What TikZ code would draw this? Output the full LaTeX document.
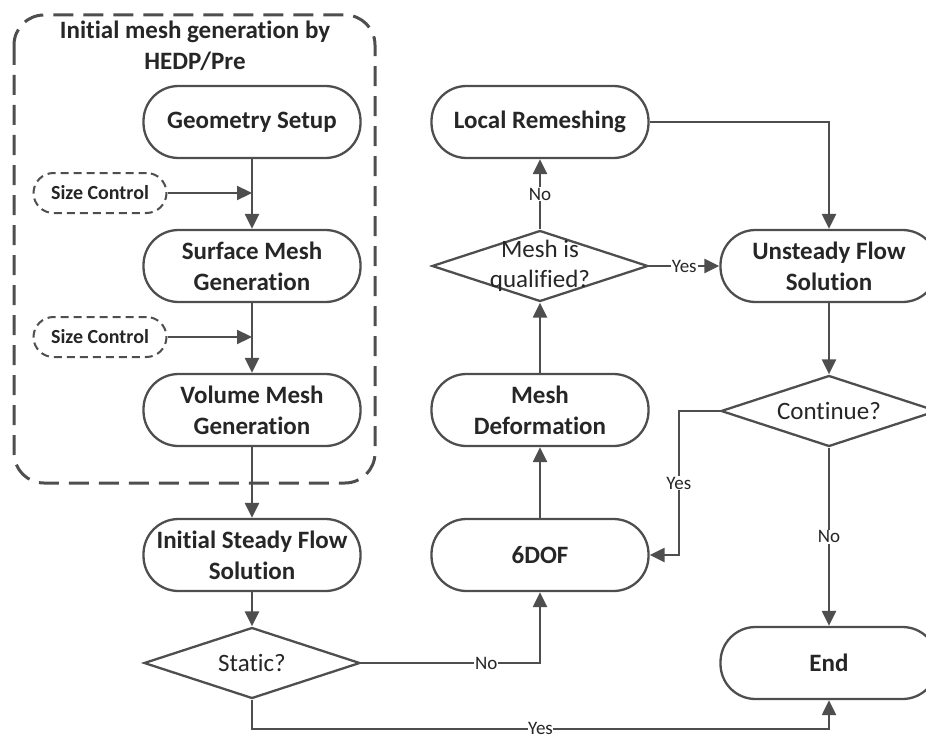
\documentclass[tikz,border=0pt]{standalone}
\usepackage{fontspec}
\setmainfont{Carlito}[Ligatures=NoCommon]
\usetikzlibrary{arrows.meta,shapes.geometric}
\definecolor{linegray}{RGB}{78,78,78}
\definecolor{textgray}{RGB}{38,38,38}

\begin{document}
\begin{tikzpicture}[x=1pt, y=-1pt,
    process/.style={draw=linegray, line width=2.3pt, rounded corners=35pt, minimum width=217pt, minimum height=72pt, inner sep=2pt, align=center, text=textgray, font=\bfseries\fontsize{25}{31}\selectfont},
    sizebox/.style={draw=linegray, line width=2pt, dash pattern=on 8pt off 5pt, rounded corners=20pt, minimum width=133pt, minimum height=40pt, inner sep=0pt, text=textgray, font=\bfseries\fontsize{20}{24}\selectfont},
    decision/.style={diamond, draw=linegray, line width=2.3pt, minimum width=216pt, minimum height=71pt, inner sep=0pt},
    dtext/.style={text=textgray, align=center, font=\fontsize{25}{30}\selectfont},
    flow/.style={draw=linegray, line width=2.3pt, -{Triangle[length=15pt, width=14pt]}},
    tag/.style={fill=white, inner sep=1pt, text=textgray, font=\fontsize{19}{21}\selectfont}
]

        \useasboundingbox (0,0) rectangle (926,741);
        \clip (0,0) rectangle (926,741);

        % Mesh generation group
        \draw[draw=linegray, line width=3pt, dash pattern=on 20pt off 10pt, rounded corners=30pt] (14,15) rectangle (375,483);
        \node[text=textgray, align=center, font=\bfseries\fontsize{25}{31}\selectfont] (grouptitle) at (195,46) {Initial mesh generation by\\HEDP/Pre};
        \node[process] (geo) at (252,122) {Geometry Setup};
        \node[process] (surf) at (252,266) {Surface Mesh\\Generation};
        \node[process] (vol) at (252,410) {Volume Mesh\\Generation};
        \node[sizebox] (size1) at (100,193) {Size Control};
        \node[sizebox] (size2) at (100,337) {Size Control};

        % Left column
        \node[process] (init) at (252,555) {Initial Steady Flow\\Solution};
        \node[decision, label={[dtext]center:Static?}] (static) at (252,663) {};

        % Middle column
        \node[process] (remesh) at (540,122) {Local Remeshing};
        \node[decision, label={[dtext]center:Mesh is\\qualified?}] (qual) at (540,266) {};
        \node[process] (deform) at (540,410) {Mesh\\Deformation};
        \node[process] (dof) at (540,555) {6DOF};

        % Right column
        \node[process] (unsteady) at (829,266) {Unsteady Flow\\Solution};
        \node[decision, label={[dtext]center:Continue?}] (cont) at (829,411) {};
        \node[process] (end) at (829,663) {End};

        % Connectors
        \draw[flow] (geo) -- (surf);
        \draw[flow] (size1.east) -- (size1.east -| geo.south);
        \draw[flow] (surf) -- (vol);
        \draw[flow] (size2.east) -- (size2.east -| surf.south);
        \draw[flow] (vol) -- (init);
        \draw[flow] (init) -- (static);
        \draw[flow] (static.east) -| node[tag, pos=0.35] {No} (dof.south);
        \draw[flow] (static.south) -- ++(0,29) -| node[tag, inner sep=0pt, pos=0.25] {Yes} (end.south);
        \draw[flow] (dof) -- (deform);
        \draw[flow] (deform) -- (qual);
        \draw[flow] (qual) -- node[tag] {No} (remesh);
        \draw[flow] (qual) -- node[tag] {Yes} (unsteady);
        \draw[flow] (remesh.east) -| (unsteady.north);
        \draw[flow] (unsteady) -- (cont);
        \draw[flow] (cont.west) -- ++(-41,0) |- node[tag, pos=0.25] {Yes} (dof.east);
        \draw[flow] (cont) -- node[tag] {No} (end);

    \end{tikzpicture}
\end{document}
